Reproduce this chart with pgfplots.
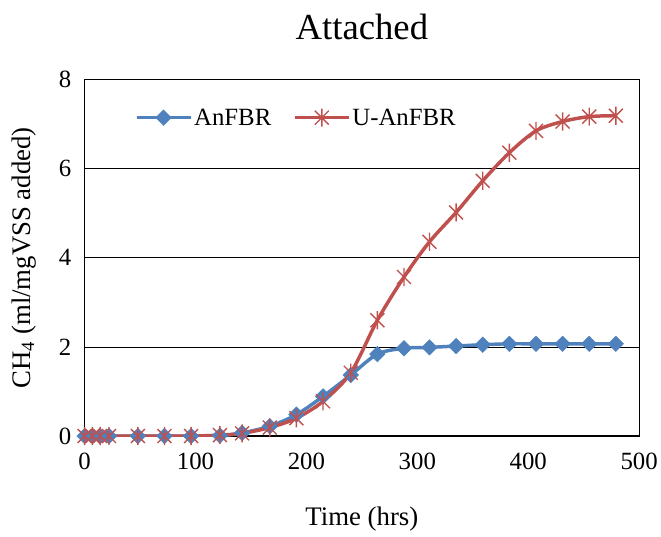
\documentclass[border=0pt]{standalone}
\usepackage{fontspec}
\setmainfont{Liberation Serif}
\usepackage{pgfplots}
\pgfplotsset{compat=1.18}
\definecolor{xlblue}{RGB}{79,129,189}
\definecolor{xlred}{RGB}{192,80,77}
\pgfdeclareplotmark{xstar}{%
  \pgfpathmoveto{\pgfqpoint{-\pgfplotmarksize}{-\pgfplotmarksize}}%
  \pgfpathlineto{\pgfqpoint{\pgfplotmarksize}{\pgfplotmarksize}}%
  \pgfpathmoveto{\pgfqpoint{-\pgfplotmarksize}{\pgfplotmarksize}}%
  \pgfpathlineto{\pgfqpoint{\pgfplotmarksize}{-\pgfplotmarksize}}%
  \pgfpathmoveto{\pgfqpoint{0pt}{-1.3\pgfplotmarksize}}%
  \pgfpathlineto{\pgfqpoint{0pt}{1.3\pgfplotmarksize}}%
  \pgfusepathqstroke}
\begin{document}
\begin{tikzpicture}
\begin{axis}[
  scale only axis,
  width=557bp, height=358bp,
  xmin=0, xmax=500, ymin=0, ymax=8,
  xtick={0,100,...,500}, ytick={0,2,...,8},
  major tick length=0pt,
  ymajorgrids, major grid style={black, line width=0.8pt},
  axis line style={black, line width=1.2pt},
  tick label style={font=\fontsize{25}{29}\selectfont},
  /pgf/number format/assume math mode=true,
  xticklabel style={yshift=-14bp},
  yticklabel style={xshift=-10bp},
  xlabel={Time (hrs)},
  ylabel={CH\textsubscript{4} (ml/mgVSS added)},
  label style={font=\fontsize{27}{31}\selectfont},
  xlabel style={yshift=-30bp},
  ylabel style={yshift=16bp},
  title={Attached},
  title style={font=\fontsize{37}{41}\selectfont, yshift=30bp},
  legend style={at={(0.085,0.93)}, anchor=north west, draw=none, fill=none,
    font=\fontsize{25}{29}\selectfont, legend columns=2,
    /tikz/every even column/.append style={column sep=20bp}},
  legend image code/.code={%
    \draw[mark repeat=2,mark phase=2,#1] plot coordinates {(0bp,0bp) (27bp,0bp) (54bp,0bp)};},
]
\addplot[color=xlblue, line width=3.5pt, smooth, tension=0.5, mark=square*, mark size=5.5bp,
  mark options={solid, fill=xlblue, line width=0.5pt, rotate=45}] coordinates {
(0,0) (7,0) (14,0) (22,0) (48,0) (72,0) (96,0) (122,0.01) (142,0.07) (167,0.22)
(191,0.48) (215,0.89) (240,1.37) (264,1.84) (288,1.97) (311,1.99) (335,2.02)
(359,2.05) (383,2.07) (407,2.07) (431,2.07) (455,2.07) (479,2.07)};
\addlegendentry{AnFBR}
\addplot[color=xlred, line width=3.5pt, smooth, tension=0.5, mark=xstar, mark size=7bp,
  mark options={solid, line width=1.4pt}] coordinates {
(0,0) (7,0) (14,0) (22,0) (48,0) (72,0) (96,0) (122,0.02) (142,0.06) (167,0.19)
(191,0.40) (215,0.78) (240,1.42) (264,2.60) (288,3.57) (311,4.36) (335,5.02)
(359,5.73) (383,6.36) (407,6.85) (431,7.06) (455,7.17) (479,7.19)};
\addlegendentry{U-AnFBR}
\end{axis}
\path (current axis.south west) ++(-85bp,-101bp) rectangle ++(661bp,539bp);
\end{tikzpicture}
\end{document}
